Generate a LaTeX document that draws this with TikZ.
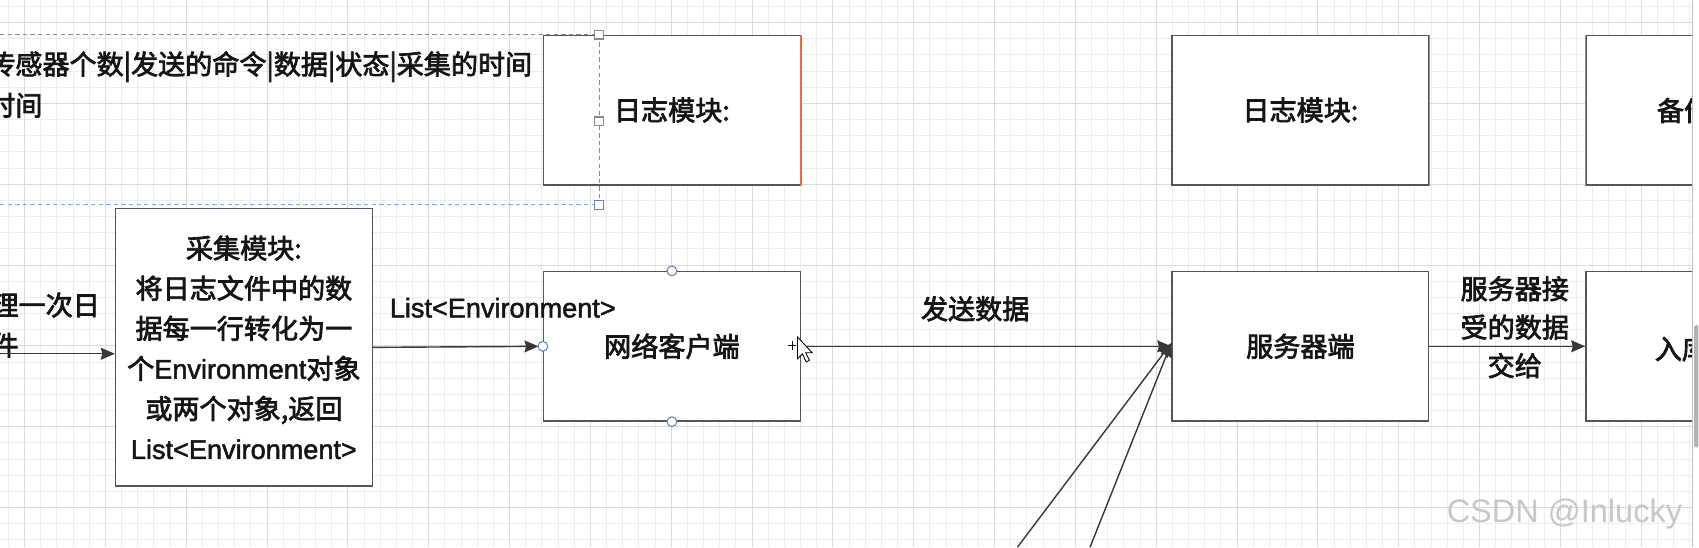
\documentclass[tikz,border=0pt]{standalone}
\usepackage{fontspec}
\setmainfont{Noto Sans CJK SC}[FakeBold=2.6]
\newfontfamily\lat{Liberation Sans}[FakeBold=1.8]
\newfontfamily\latplain{Liberation Sans}
\usetikzlibrary{arrows.meta}
\definecolor{minorg}{HTML}{EDEDED}
\definecolor{majorg}{HTML}{DADADA}
\definecolor{boxgray}{HTML}{555555}
\definecolor{edgered}{HTML}{F06A3C}
\definecolor{selblue}{HTML}{7EA6E0}
\definecolor{selgray}{HTML}{8A8A8A}
\definecolor{inkc}{HTML}{151515}
\begin{document}
\begin{tikzpicture}[x=1pt,y=-1pt,
  minorgrid/.style={draw=minorg,line width=0.9pt},
  majorgrid/.style={draw=majorg,line width=0.9pt},
  box/.style={draw=boxgray,line width=1.2pt,fill=white,minimum width=237pt,minimum height=138pt,
    inner sep=0pt,anchor=north west,font=\fontsize{25}{37}\selectfont,align=center,text=inkc},
  lbl/.style={inner sep=0pt,font=\fontsize{25}{37}\selectfont,text=inkc},
  arr/.style={draw=inkc!85,line width=1.3pt,-{Stealth[length=13pt,width=11pt,inset=1.5pt]}},
  redge/.style={draw=edgered,line width=1.2pt},
  seldash/.style={draw=selgray,line width=1pt,dash pattern=on 4pt off 3pt},
  selbdash/.style={draw=selblue,line width=1pt,dash pattern=on 4pt off 3pt},
  sqhandle/.style={draw=selgray,fill=white,line width=1pt,minimum size=8pt,inner sep=0pt},
  sqbhandle/.style={draw=selblue!80!black,fill=white,line width=1pt,minimum size=8pt,inner sep=0pt},
  chandle/.style={circle,draw=selblue!80!black,fill=white,line width=1pt,minimum size=9pt,inner sep=0pt},
]
\useasboundingbox (0,0) rectangle (1568,505);
\fill[white] (0,0) rectangle (1568,505);
\begin{scope}
\clip (0,0) rectangle (1562,505);
% grid
\foreach \i in {0,...,104} \draw[minorgrid] ({7.78+14.92*\i},0) -- ({7.78+14.92*\i},505);
\foreach \i in {0,...,33} \draw[minorgrid] (0,{5.88+14.92*\i}) -- (1562,{5.88+14.92*\i});
\foreach \i in {0,...,20} \draw[majorgrid] ({22.7+74.6*\i},0) -- ({22.7+74.6*\i},505);
\foreach \i in {0,...,6} \draw[majorgrid] (0,{20.8+74.6*\i}) -- (1562,{20.8+74.6*\i});

% boxes
\node[box] (log1) at (501,32) {日志模块:};
\node[box] (log2) at (1081,32) {日志模块:};
\node[box] (bak) at (1463,32) {};
\node[box,minimum height=256pt] (col) at (106,192) {采集模块:\\将日志文件中的数\\据每一行转化为一\\个{\lat Environment}对象\\或两个对象,返回\\{\lat List<Environment>}};
\node[box] (net) at (501,250) {网络客户端};
\node[box] (srv) at (1081,250) {服务器端};
\node[box] (ruku) at (1463,250) {};
\node[lbl,anchor=west] (baktxt) at (1529,102) {备份};
\node[lbl,anchor=west] (rukutxt) at (1527,322) {入库};

\draw[redge] (log1.north east) -- (log1.south east);
\draw[redge] (log2.north east) -- (log2.south east);
\draw[redge] (bak.north west) -- (bak.south west);

% free texts
\node[lbl,anchor=west,align=left,font=\fontsize{25}{38}\selectfont] (toptxt) at (-11,78) {传感器个数|发送的命令|数据|状态|采集的时间\\时间};
\node[lbl,anchor=west,align=left] (lefttxt) at (-8,300) {理一次日\\件};

% connectors
\coordinate (lin) at (0,326.5);
\draw[arr] (lin) -- (col.west |- lin);
\draw[arr,shorten >=4pt] (col.east) -- (net.west);
\draw[arr] (net.east) -- (srv.west);
\coordinate (d1) at (939,505);
\coordinate (d2) at (1006,505);
\draw[arr] (d1) -- ([yshift=3pt]srv.west);
\draw[arr] (d2) -- ([yshift=3pt]srv.west);
\draw[arr] (srv.east) -- (ruku.west);

% labels
\node[lbl] (l1) at (464,284) {\lat List<Environment>};
\node[lbl] (l2) at (900,285) {发送数据};
\node[lbl,align=center,font=\fontsize{25}{35.5}\selectfont] (l3) at (1398,302) {服务器接\\受的数据\\交给};

% selection outlines
\coordinate (s1) at (0,32);
\coordinate (s2) at (553,32);
\coordinate (s3) at (553,189);
\coordinate (s4) at (0,189);
\draw[seldash] (s1) -- (s2);
\draw[seldash] (s2) -- (s3);
\draw[selbdash] (s4) -- (s3);
\node[sqhandle] (h1) at (s2) {};
\node[sqhandle] (h2) at (553,112) {};
\node[sqbhandle] (h3) at (s3) {};
\node[chandle] (c1) at (net.north) {};
\node[chandle] (c2) at (net.south) {};
\node[chandle] (c3) at (net.west) {};

% mouse cursor
\draw[line width=0.8pt,draw=black,fill=white] (736,311) -- (736,331) -- (740.5,326.5) -- (744,334) -- (747,332.5) -- (743.5,325.5) -- (749.5,325.5) -- cycle;
\draw[line width=1pt,draw=black] (727,319) -- (735,319) (731,315) -- (731,323);

% watermark
\node[anchor=west,inner sep=0pt,font=\latplain\fontsize{30}{32}\selectfont,text=black!22] (wm) at (1335,474) {CSDN @Inlucky};
\end{scope}
% scrollbar
\fill[white] (1562,0) rectangle (1568,505);
\draw[draw=black!25,line width=0.8pt] (1562,0) -- (1562,505);
\fill[black!30,rounded corners=2pt] (1563.5,300) rectangle (1567.5,413);
\end{tikzpicture}
\end{document}
